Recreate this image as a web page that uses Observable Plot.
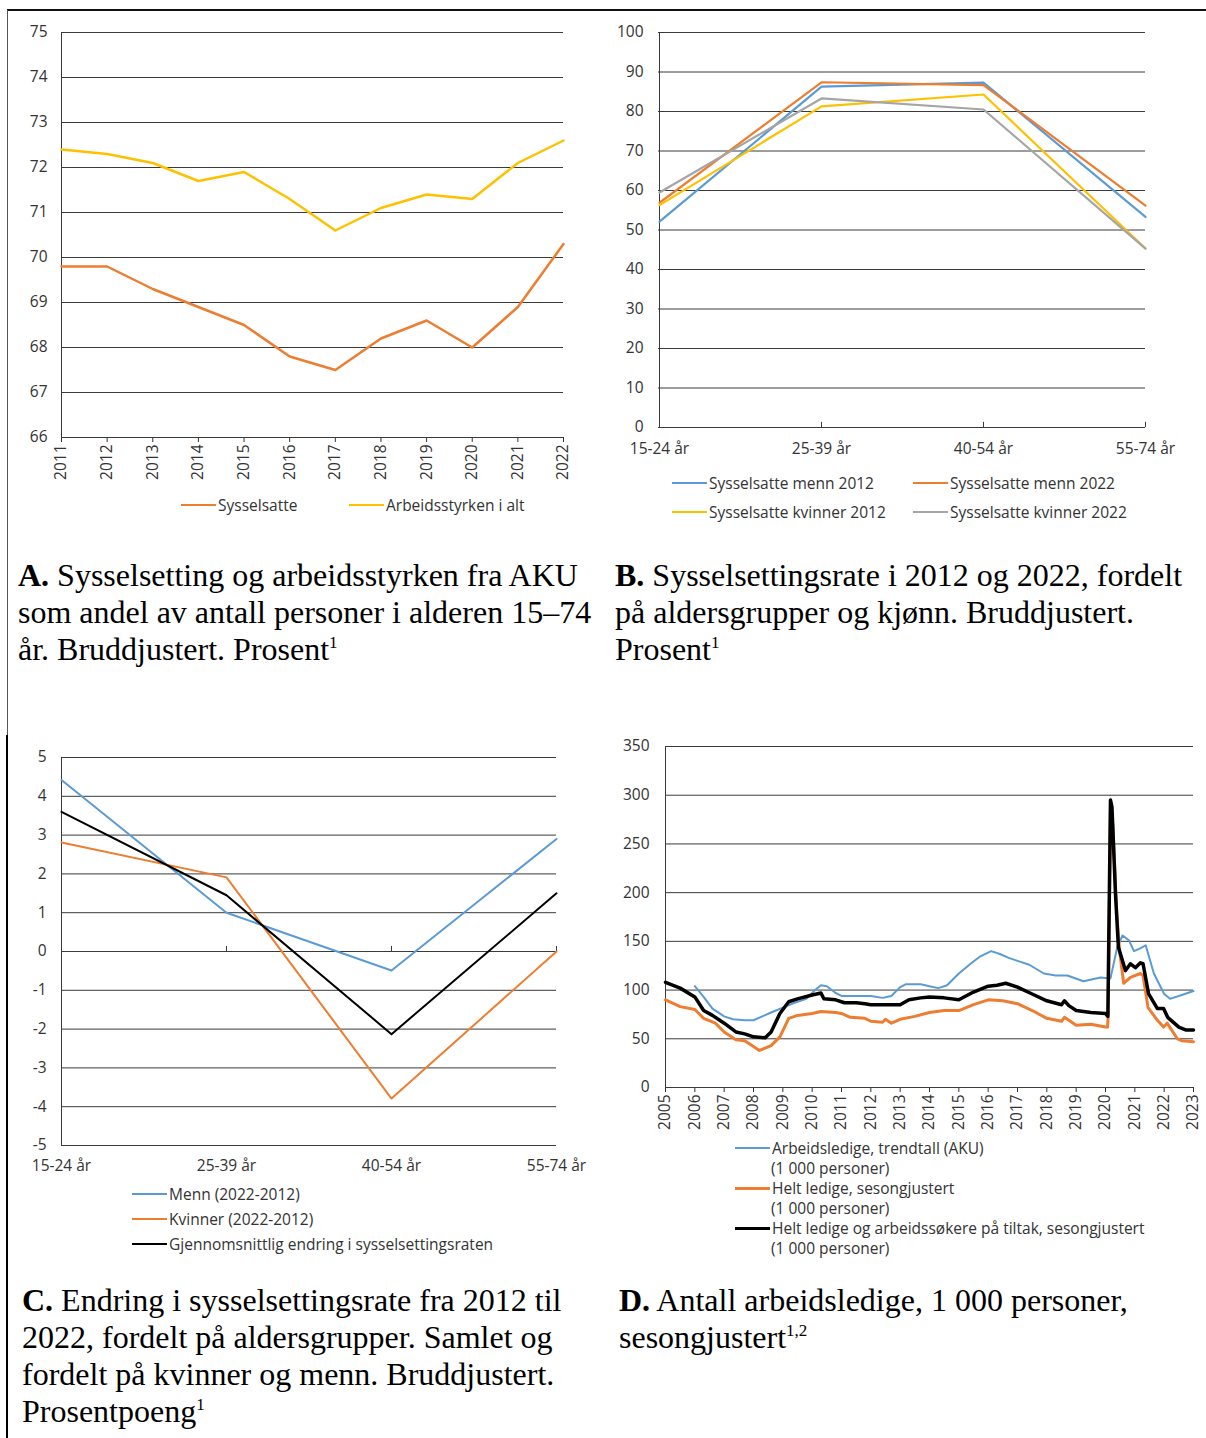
<!DOCTYPE html>
<html><head><meta charset="utf-8">
<script src="https://cdn.jsdelivr.net/npm/d3@7"></script>
<script src="https://cdn.jsdelivr.net/npm/@observablehq/plot@0.6"></script>
<style>
body{margin:0;background:#fff;}
#page{position:relative;width:1206px;height:1438px;overflow:hidden;font-family:"Open Sans",sans-serif;background:#fff;}
.panel{position:absolute;}
.cap{position:absolute;font-family:"Liberation Serif","Times New Roman",serif;font-size:32px;line-height:37px;color:#000;white-space:nowrap;}
.cap sup{font-size:17px;line-height:0;vertical-align:baseline;position:relative;top:-12px;}
.leg{position:absolute;height:18px;line-height:18px;font-size:15.5px;color:#333;white-space:nowrap;display:flex;align-items:center;}
.leg .sw{display:inline-block;width:35px;margin-right:2px;}
.line2{position:absolute;font-size:15.5px;color:#333;white-space:nowrap;height:18px;line-height:18px;}
.border{position:absolute;}
</style></head><body><div id="page"></div>
<script>
// ---------- DATA ----------
// Panel A
const yearsA = [2011,2012,2013,2014,2015,2016,2017,2018,2019,2020,2021,2022];
const sysselsatte = [69.8,69.8,69.3,68.9,68.5,67.8,67.5,68.2,68.6,68.0,68.9,70.3];
const arbeidsstyrken = [72.4,72.3,72.1,71.7,71.9,71.3,70.6,71.1,71.4,71.3,72.1,72.6];
const aTicks = [66,67,68,69,70,71,72,73,74,75];

// Panel B
const ageGroups = ["15-24 år","25-39 år","40-54 år","55-74 år"];
const menn2012 = [52.1,86.3,87.3,53.3];
const menn2022 = [56.9,87.4,86.7,56.2];
const kvinner2012 = [56.3,81.3,84.3,45.3];
const kvinner2022 = [59.5,83.3,80.5,45.3];
const bTicks = [0,10,20,30,40,50,60,70,80,90,100];

// Panel C
const mennEndring = [4.42,1.0,-0.49,2.9];
const kvinnerEndring = [2.81,1.91,-3.79,0.0];
const snittEndring = [3.6,1.45,-2.13,1.5];
const cTicks = [-5,-4,-3,-2,-1,0,1,2,3,4,5];

// Panel D  [year, 1000 persons]
const akuTrend = [[2006.0,104],[2006.3,93],[2006.6,81],[2007.0,73],[2007.3,70],[2007.7,69],[2008.0,69],[2008.3,73],[2008.6,77],[2009.0,82],[2009.4,87],[2009.8,91],[2010.1,100],[2010.3,105],[2010.5,104],[2010.8,97],[2011.0,94],[2011.5,94],[2012.0,94],[2012.4,92],[2012.7,94],[2013.0,103],[2013.2,106],[2013.7,106],[2014.0,104],[2014.3,102],[2014.6,105],[2015.0,117],[2015.4,127],[2015.7,134],[2016.1,140],[2016.4,137],[2016.7,133],[2017.0,130],[2017.4,126],[2017.9,117],[2018.3,115],[2018.7,115],[2019.25,109],[2019.83,113],[2020.17,112],[2020.4,144],[2020.58,156],[2020.8,151],[2020.97,140],[2021.2,143],[2021.37,146],[2021.65,117],[2022.0,96],[2022.2,91],[2022.6,95],[2023.0,99]];
const heltLedige = [[2005.0,90],[2005.5,83],[2006.0,80],[2006.3,71],[2006.7,66],[2007.0,57],[2007.4,49],[2007.7,48],[2008.0,42],[2008.2,38],[2008.6,43],[2008.9,52],[2009.2,71],[2009.5,74],[2010.0,76],[2010.3,78],[2010.8,77],[2011.0,76],[2011.3,72],[2011.8,71],[2012.0,68],[2012.4,67],[2012.5,70],[2012.7,66],[2013.0,70],[2013.5,73],[2014.0,77],[2014.5,79],[2015.0,79],[2015.5,85],[2016.0,90],[2016.5,89],[2017.0,86],[2017.5,79],[2018.0,71],[2018.5,68],[2018.6,72],[2019.0,64],[2019.5,65],[2020.0,62],[2020.07,62],[2020.09,72],[2020.17,285],[2020.25,270],[2020.38,180],[2020.48,140],[2020.62,107],[2020.85,113],[2021.19,117],[2021.28,115],[2021.45,82],[2021.77,69],[2021.98,62],[2022.1,66],[2022.45,50],[2022.6,48],[2023.0,47]];
const ledigeTiltak = [[2005.0,108],[2005.5,102],[2006.0,93],[2006.3,79],[2006.6,74],[2007.0,66],[2007.4,57],[2007.7,55],[2008.0,52],[2008.4,51],[2008.6,57],[2008.9,76],[2009.2,88],[2009.5,91],[2010.0,95],[2010.3,97],[2010.4,91],[2010.8,90],[2011.1,87],[2011.5,87],[2011.8,86],[2012.0,85],[2012.5,85],[2013.0,85],[2013.3,90],[2013.7,92],[2014.0,93],[2014.5,92],[2015.0,90],[2015.5,98],[2016.0,104],[2016.3,105],[2016.6,107],[2017.0,103],[2017.5,96],[2018.0,89],[2018.5,85],[2018.6,89],[2018.75,84],[2019.0,79],[2019.5,77],[2020.0,76],[2020.08,73],[2020.17,295],[2020.22,288],[2020.34,199],[2020.44,144],[2020.68,120],[2020.85,127],[2021.02,123],[2021.19,128],[2021.28,127],[2021.47,96],[2021.77,81],[2021.98,81],[2022.12,72],[2022.5,62],[2022.75,59],[2023.0,59]];
const yearsD = d3.range(2005, 2024);
const dTicks = [0,50,100,150,200,250,300,350];

// ---------- STYLE ----------
const BLUE = "#5B9BD5", ORANGE = "#ED7D31", YELLOW = "#FFC000", GRAY = "#A5A5A5", BLACK = "#000";
const GRID = "#3a3a3a";
const baseStyle = {fontFamily: "'Open Sans', sans-serif", fontSize: "15.5px", color: "#333", background: "transparent", overflow: "visible"};

const page = document.getElementById("page");
function place(el, left, top) {
  const w = document.createElement("div");
  w.className = "panel"; w.style.left = left + "px"; w.style.top = top + "px";
  w.appendChild(el); page.appendChild(w);
}

// ---------- PANEL A ----------
const rowsA = [];
yearsA.forEach((y,i) => { rowsA.push({year:y, v:sysselsatte[i], s:"Sysselsatte"}); });
yearsA.forEach((y,i) => { rowsA.push({year:y, v:arbeidsstyrken[i], s:"Arbeidsstyrken i alt"}); });
const plotA = Plot.plot({
  width: 600, height: 490, marginLeft: 61, marginRight: 37, marginTop: 32, marginBottom: 53,
  style: baseStyle,
  x: {type: "linear", domain: [2011, 2022], ticks: yearsA, tickFormat: d => String(d), tickRotate: -90, tickSize: 5, tickPadding: 2, label: null},
  y: {domain: [66, 75], ticks: aTicks, tickSize: 0, tickPadding: 14, label: null},
  marks: [
    Plot.ruleY(aTicks, {stroke: GRID, strokeWidth: 1}),
    Plot.ruleX([2011], {stroke: GRID, strokeWidth: 1}),
    Plot.line(rowsA, {x: "year", y: "v", z: "s", stroke: d => d.s === "Sysselsatte" ? ORANGE : YELLOW, strokeWidth: 2.5})
  ]
});
place(plotA, 0, 0);

// ---------- PANEL B ----------
const seriesB = [["Sysselsatte menn 2012", menn2012, BLUE],["Sysselsatte menn 2022", menn2022, ORANGE],["Sysselsatte kvinner 2012", kvinner2012, YELLOW],["Sysselsatte kvinner 2022", kvinner2022, GRAY]];
const rowsB = seriesB.flatMap(([s, vals, c]) => ageGroups.map((a,i) => ({age:a, v:vals[i], s, c})));
const plotB = Plot.plot({
  width: 606, height: 460, marginLeft: 58, marginRight: 61, marginTop: 32, marginBottom: 33,
  style: baseStyle,
  x: {type: "point", domain: ageGroups, padding: 0, tickSize: 0, tickPadding: 15, label: null},
  y: {domain: [0, 100], ticks: bTicks, tickSize: 0, tickPadding: 15, label: null},
  marks: [
    Plot.ruleY(bTicks, {stroke: GRID, strokeWidth: 1}),
    Plot.ruleX([ageGroups[0]], {stroke: GRID, strokeWidth: 1}),
    Plot.ruleX(ageGroups.slice(1), {y1: 0, y2: 1.3, stroke: GRID, strokeWidth: 1}),
    Plot.line(rowsB, {x: "age", y: "v", z: "s", stroke: "c", strokeWidth: 2.2})
  ]
});
place(plotB, 600, 0);

// ---------- PANEL C ----------
const seriesC = [["Menn (2022-2012)", mennEndring, BLUE],["Kvinner (2022-2012)", kvinnerEndring, ORANGE],["Gjennomsnittlig endring i sysselsettingsraten", snittEndring, BLACK]];
const rowsC = seriesC.flatMap(([s, vals, c]) => ageGroups.map((a,i) => ({age:a, v:vals[i], s, c})));
const plotC = Plot.plot({
  width: 600, height: 475, marginLeft: 61, marginRight: 44, marginTop: 57, marginBottom: 30,
  style: baseStyle,
  x: {type: "point", domain: ageGroups, padding: 0, tickSize: 0, tickPadding: 14, label: null},
  y: {domain: [-5, 5], ticks: cTicks, tickFormat: d => String(d), tickSize: 0, tickPadding: 15, label: null},
  marks: [
    Plot.ruleY(cTicks, {stroke: GRID, strokeWidth: 1}),
    Plot.ruleX([ageGroups[0]], {stroke: GRID, strokeWidth: 1}),
    Plot.ruleX(ageGroups.slice(1), {y1: 0, y2: 0.13, stroke: GRID, strokeWidth: 1}),
    Plot.line(rowsC, {x: "age", y: "v", z: "s", stroke: "c", strokeWidth: 2})
  ]
});
place(plotC, 0, 700);

// ---------- PANEL D ----------
const rowsD = [
  ...akuTrend.map(([t,v]) => ({t, v, s:"aku"})),
  ...heltLedige.map(([t,v]) => ({t, v, s:"helt"})),
  ...ledigeTiltak.map(([t,v]) => ({t, v, s:"tiltak"}))
];
const plotD = Plot.plot({
  width: 606, height: 417, marginLeft: 65, marginRight: 13, marginTop: 26, marginBottom: 50,
  style: baseStyle,
  x: {type: "linear", domain: [2005, 2023], ticks: yearsD, tickFormat: d => String(d), tickRotate: -90, tickSize: 5, tickPadding: 2, label: null},
  y: {domain: [0, 350], ticks: dTicks, tickSize: 0, tickPadding: 16, label: null},
  marks: [
    Plot.ruleY(dTicks, {stroke: GRID, strokeWidth: 1}),
    Plot.ruleX([2005], {stroke: GRID, strokeWidth: 1}),
    Plot.line(rowsD.filter(d => d.s === "aku"), {x: "t", y: "v", stroke: BLUE, strokeWidth: 2}),
    Plot.line(rowsD.filter(d => d.s === "helt"), {x: "t", y: "v", stroke: ORANGE, strokeWidth: 3}),
    Plot.line(rowsD.filter(d => d.s === "tiltak"), {x: "t", y: "v", stroke: BLACK, strokeWidth: 3.5})
  ]
});
place(plotD, 600, 720);

// ---------- LEGENDS ----------
function legend(x, y, color, text, thick) {
  const d = document.createElement("div");
  d.className = "leg"; d.style.left = x + "px"; d.style.top = (y - 9) + "px";
  d.innerHTML = `<span class="sw" style="background:${color};height:${thick||2}px"></span><span>${text}</span>`;
  page.appendChild(d);
}
function line2(x, y, text) {
  const d = document.createElement("div");
  d.className = "line2"; d.style.left = x + "px"; d.style.top = (y - 9) + "px";
  d.textContent = text; page.appendChild(d);
}
legend(181, 505, ORANGE, "Sysselsatte");
legend(349, 505, YELLOW, "Arbeidsstyrken i alt");
legend(672, 483, BLUE, seriesB[0][0]);
legend(913, 483, ORANGE, seriesB[1][0]);
legend(672, 512, YELLOW, seriesB[2][0]);
legend(913, 512, GRAY, seriesB[3][0]);
legend(132, 1194, BLUE, seriesC[0][0]);
legend(132, 1219, ORANGE, seriesC[1][0]);
legend(132, 1244, BLACK, seriesC[2][0]);
legend(735, 1148, BLUE, "Arbeidsledige, trendtall (AKU)", 2);
line2(771, 1168, "(1 000 personer)");
legend(735, 1188, ORANGE, "Helt ledige, sesongjustert", 3);
line2(771, 1208, "(1 000 personer)");
legend(735, 1228, BLACK, "Helt ledige og arbeidssøkere på tiltak, sesongjustert", 3);
line2(771, 1248, "(1 000 personer)");

// ---------- CAPTIONS ----------
function caption(x, y, html) {
  const d = document.createElement("div");
  d.className = "cap"; d.style.left = x + "px"; d.style.top = y + "px";
  d.innerHTML = html; page.appendChild(d);
}
caption(18, 557, "<b>A.</b> Sysselsetting og arbeidsstyrken fra AKU<br>som andel av antall personer i alderen 15–74<br>år. Bruddjustert. Prosent<sup>1</sup>");
caption(615, 557, "<b>B.</b> Sysselsettingsrate i 2012 og 2022, fordelt<br>på aldersgrupper og kjønn. Bruddjustert.<br>Prosent<sup>1</sup>");
caption(22, 1282, "<b>C.</b> Endring i sysselsettingsrate fra 2012 til<br>2022, fordelt på aldersgrupper. Samlet og<br>fordelt på kvinner og menn. Bruddjustert.<br>Prosentpoeng<sup>1</sup>");
caption(619, 1282, "<b>D.</b> Antall arbeidsledige, 1 000 personer,<br>sesongjustert<sup>1,2</sup>");

// ---------- BORDERS ----------
function box(l, t, w, h, c) {
  const d = document.createElement("div");
  d.className = "border";
  Object.assign(d.style, {left: l+"px", top: t+"px", width: w+"px", height: h+"px", background: c});
  page.appendChild(d);
}
box(7, 9, 1199, 2, "#111");
box(7, 10, 1, 725, "#555");
box(6, 735, 2, 703, "#000");
</script>
</body></html>
